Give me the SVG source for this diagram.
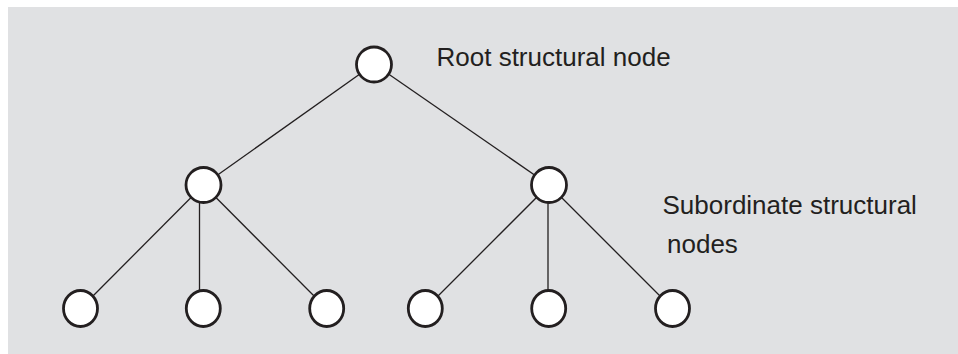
<svg xmlns="http://www.w3.org/2000/svg" width="958" height="354" viewBox="0 0 958 354">
<style>
.n{fill:#fff;stroke:#231f20;stroke-width:2.8}
.e{stroke:#231f20;stroke-width:1.3;fill:none}
.t{font-family:"Liberation Sans",Arial,sans-serif;font-size:26px;fill:#231f20}
</style>
<rect x="0" y="0" width="958" height="354" fill="#fff"/>
<rect x="8" y="7" width="950" height="347" fill="#e0e1e3"/>
<g id="connectors">
<line class="e" x1="374" y1="64" x2="203.5" y2="185"/>
<line class="e" x1="374" y1="64" x2="549" y2="185"/>
<line class="e" x1="203.5" y1="185" x2="80.5" y2="308.5"/>
<line class="e" x1="199.5" y1="185" x2="199.5" y2="308.5"/>
<line class="e" x1="203.5" y1="185" x2="326.5" y2="308.5"/>
<line class="e" x1="549" y1="185" x2="425.5" y2="308.5"/>
<line class="e" x1="548" y1="185" x2="548" y2="308.5"/>
<line class="e" x1="549" y1="185" x2="672.5" y2="308.5"/>
</g>
<g id="root"><circle class="n" cx="374" cy="64.5" r="17.5"/></g>
<g id="mid-left"><circle class="n" cx="203.5" cy="185" r="17.5"/></g>
<g id="mid-right"><circle class="n" cx="549" cy="185" r="17.5"/></g>
<g id="leaf1"><ellipse class="n" cx="80.5" cy="308.5" rx="17" ry="18"/></g>
<g id="leaf2"><ellipse class="n" cx="203.3" cy="308.5" rx="17" ry="18"/></g>
<g id="leaf3"><ellipse class="n" cx="326.7" cy="308.5" rx="17" ry="18"/></g>
<g id="leaf4"><ellipse class="n" cx="425.3" cy="308.5" rx="17" ry="18"/></g>
<g id="leaf5"><ellipse class="n" cx="548.7" cy="308.5" rx="17" ry="18"/></g>
<g id="leaf6"><ellipse class="n" cx="672.5" cy="308.5" rx="17" ry="18"/></g>
<g id="labels">
<text class="t" x="436.5" y="65.7">Root structural node</text>
<text class="t" x="662.5" y="214">Subordinate structural</text>
<text class="t" x="667" y="252.7">nodes</text>
</g>
</svg>
